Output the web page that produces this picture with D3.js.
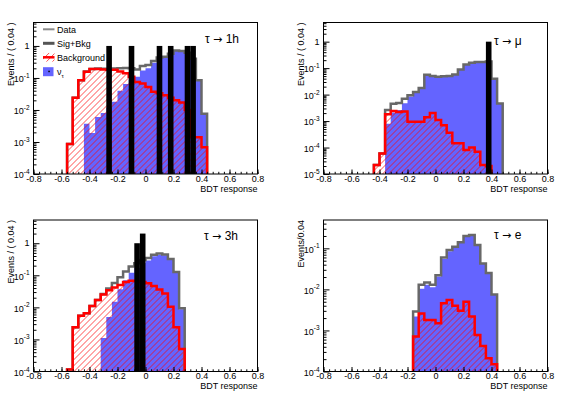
<!DOCTYPE html>
<html>
<head>
<meta charset="utf-8">
<script src="https://cdn.jsdelivr.net/npm/d3@7"></script>
<style>
body { margin: 0; background: #fff; }
svg { display: block; }
text { font-family: "Liberation Sans", Arial, sans-serif; }
</style>
</head>
<body>
<div id="chart"></div>
<script>
/*
Four BDT response plots (tau -> 1h, mu, 3h, e), log y scale.
Each histogram is stored as the low edge of its first bin and the bin contents.
*/
var binWidth = 0.04;

// tau -> 1h
var bkg1hStart = -0.56;
var bkg1h = [8.7e-4, 0.024, 0.085, 0.155, 0.19, 0.19, 0.185, 0.18, 0.18, 0.16, 0.14, 0.11,
	0.075, 0.067, 0.052, 0.037, 0.033, 0.029, 0.024, 0.02, 0.017, 0.01, 1.4e-3, 1.4e-3, 6.8e-4];
var sig1hStart = -0.44;
var sig1h = [3.7e-3, 1.9e-3, 6e-3, 8e-3, 0.012, 0.018, 0.04, 0.065, 0.09, 0.11, 0.17, 0.2,
	0.3, 0.4, 0.43, 0.55, 0.7, 0.68, 0.6, 0.4, 0.083, 7e-3];
var data1hBins = [-0.28, -0.12, 0.08, 0.16, 0.28, 0.32];
var data1hCounts = [1, 1, 1, 1, 1, 1];

// tau -> mu
var bkgMuStart = -0.44;
var bkgMu = [2.2e-5, 6e-5, 1.8e-3, 2.4e-3, 2.2e-3, 2.3e-3, 9.5e-4, 9.5e-4, 9.5e-4, 1.4e-3, 2.0e-3,
	1.1e-3, 7e-4, 3.6e-4, 1.45e-4, 1.45e-4, 8e-5, 1e-4, 7e-5, 2.2e-5, 2e-5];
var sigMuStart = -0.36;
var sigMu = [8e-4, 2.1e-3, 2.6e-3, 4.7e-3, 8.4e-3, 0.0116, 0.017, 0.055, 0.048, 0.046, 0.049,
	0.05, 0.057, 0.089, 0.138, 0.16, 0.17, 0.17, 0.18, 0.04, 4.6e-3];
var dataMuBins = [0.36];
var dataMuCounts = [1];

// tau -> 3h
var bkg3hStart = -0.56;
var bkg3h = [1.15e-4, 2.4e-3, 5.5e-3, 6.5e-3, 0.011, 0.017, 0.025, 0.034, 0.042, 0.05, 0.062,
	0.067, 0.066, 0.062, 0.056, 0.046, 0.036, 0.027, 0.0105, 2.4e-3, 5e-4];
var sig3hStart = -0.32;
var sig3h = [1.1e-3, 5e-3, 0.015, 0.037, 0.07, 0.12, 0.17, 0.24, 0.29, 0.39, 0.44, 0.42,
	0.31, 0.125, 8.8e-3];
var data3hBins = [-0.08, -0.04];
var data3hCounts = [1, 2];

// tau -> e
var bkgEStart = -0.16;
var bkgE = [7.1e-4, 2.6e-3, 1.8e-3, 1.8e-3, 1.5e-3, 4.6e-3, 5.5e-3, 4e-3, 3e-3, 5e-3, 2.2e-3,
	7.8e-4, 4.2e-4, 2.1e-4, 1.5e-4];
var sigEStart = -0.16;
var sigE = [2.2e-3, 0.0103, 0.013, 0.0112, 0.0205, 0.055, 0.085, 0.106, 0.137, 0.195, 0.208,
	0.119, 0.0426, 0.0248, 7.35e-3];
var dataEBins = [];
var dataECounts = [];

// axis labels
var xTicks = [-0.8, -0.6, -0.4, -0.2, 0, 0.2, 0.4, 0.6, 0.8];
var xTickLabels = ["-0.8", "-0.6", "-0.4", "-0.2", "0", "0.2", "0.4", "0.6", "0.8"];
var xTitle = "BDT response";

var pads = [
	{col: 0, row: 0, yMin: 1e-4, yMax: 5.4, yTitle: "Events / ( 0.04 )", label: "1h", lx: 205, ly: 42.5,
		bkgStart: bkg1hStart, bkg: bkg1h, sigStart: sig1hStart, sig: sig1h, dataBins: data1hBins, dataCounts: data1hCounts},
	{col: 1, row: 0, yMin: 1e-5, yMax: 5.3, yTitle: "Events / ( 0.04 )", label: "\u03bc", lx: 204, ly: 44.5,
		bkgStart: bkgMuStart, bkg: bkgMu, sigStart: sigMuStart, sig: sigMu, dataBins: dataMuBins, dataCounts: dataMuCounts},
	{col: 0, row: 1, yMin: 1e-4, yMax: 5.3, yTitle: "Events / ( 0.04 )", label: "3h", lx: 204, ly: 42,
		bkgStart: bkg3hStart, bkg: bkg3h, sigStart: sig3hStart, sig: sig3h, dataBins: data3hBins, dataCounts: data3hCounts},
	{col: 1, row: 1, yMin: 1e-4, yMax: 0.49, yTitle: "Events/0.04", label: "e", lx: 204, ly: 41.5,
		bkgStart: bkgEStart, bkg: bkgE, sigStart: sigEStart, sig: sigE, dataBins: dataEBins, dataCounts: dataECounts}
];

var padX = [0, 290];
var padY = [0, 197.5];
var frame = {left: 33.5, right: 257.5, top: 22.5, bottom: 174};

var blue = "#6464ff";
var red = "#ff0000";
var gray = "#686868";
var hatchStep = 6;

var svg = d3.select("#chart").append("svg")
	.attr("width", 581)
	.attr("height", 395);

var defs = svg.append("defs");

//step outline of a histogram, down to the bottom of the frame at both ends
function stepLine(x, y, start, vals) {
	var bottom = y.range()[0];
	var pts = [[x(start), bottom]];
	vals.forEach(function(v, k) {
		pts.push([x(start + k * binWidth), y(v)]);
		pts.push([x(start + (k + 1) * binWidth), y(v)]);
	});
	pts.push([x(start + vals.length * binWidth), bottom]);
	return d3.line()(pts);
}

//sig + bkg summed bin by bin
function sumHist(aStart, a, bStart, b) {
	var ia = Math.round((aStart + 0.8) / binWidth);
	var ib = Math.round((bStart + 0.8) / binWidth);
	var lo = Math.min(ia, ib);
	var hi = Math.max(ia + a.length, ib + b.length);
	var vals = d3.range(lo, hi).map(function(k) {
		return (a[k - ia] || 0) + (b[k - ib] || 0);
	});
	return {start: -0.8 + lo * binWidth, vals: vals};
}

/*
Red "/" hatching, lines drawn one by one (clipped by the caller).
absOffset = page x - page y of the group origin; the lines are shifted so they
run between pixel centres and come out light, the same in every pad.
*/
function hatchLines(parent, x0, y0, x1, y1, absOffset) {
	var h = y1 - y0;
	var base = x0 - h - y1 + absOffset;
	var shift = 0.5 - (((base % 1) + 1) % 1);
	var starts = d3.range(x0 - h - hatchStep, x1 + hatchStep, hatchStep);
	parent.selectAll("line.hatch")
		.data(starts)
		.enter()
		.append("line")
		.attr("class", "hatch")
		.attr("x1", function(d) { return d + shift; })
		.attr("y1", y1)
		.attr("x2", function(d) { return d + shift + h; })
		.attr("y2", y0)
		.attr("stroke", red)
		.attr("stroke-width", 0.7);
}

function drawPad(p, i) {
	var ox = padX[p.col], oy = padY[p.row];
	var g = svg.append("g")
		.attr("transform", "translate(" + ox + "," + oy + ")");

	var x = d3.scaleLinear().domain([-0.8, 0.8]).range([frame.left, frame.right]);
	var y = d3.scaleLog().domain([p.yMin, p.yMax]).range([frame.bottom, frame.top]).clamp(true);

	defs.append("clipPath").attr("id", "clip" + i)
		.append("rect")
		.attr("x", frame.left).attr("y", frame.top)
		.attr("width", frame.right - frame.left)
		.attr("height", frame.bottom - frame.top);

	var bkgArea = stepLine(x, y, p.bkgStart, p.bkg) + "Z";
	defs.append("clipPath").attr("id", "bkgclip" + i)
		.append("path")
		.attr("d", bkgArea);

	var plot = g.append("g").attr("clip-path", "url(#clip" + i + ")");

	//signal, filled blue
	plot.append("path")
		.attr("d", stepLine(x, y, p.sigStart, p.sig) + "Z")
		.attr("fill", blue);

	//background hatch
	var hatchG = plot.append("g").attr("clip-path", "url(#bkgclip" + i + ")");
	hatchLines(hatchG, frame.left, frame.top, frame.right, frame.bottom, ox - oy);

	//sig+bkg line
	var tot = sumHist(p.sigStart, p.sig, p.bkgStart, p.bkg);
	plot.append("path")
		.attr("d", stepLine(x, y, tot.start, tot.vals))
		.attr("fill", "none")
		.attr("stroke", gray)
		.attr("stroke-width", 2.5);

	//background line
	plot.append("path")
		.attr("d", stepLine(x, y, p.bkgStart, p.bkg))
		.attr("fill", "none")
		.attr("stroke", red)
		.attr("stroke-width", 2.5);

	//data
	plot.selectAll("rect.data")
		.data(p.dataBins)
		.enter()
		.append("rect")
		.attr("class", "data")
		.attr("x", function(d) { return x(d); })
		.attr("width", function(d) { return x(d + binWidth) - x(d); })
		.attr("y", function(d, k) { return y(p.dataCounts[k]); })
		.attr("height", function(d, k) { return frame.bottom - y(p.dataCounts[k]); })
		.attr("fill", "#000");

	//frame
	g.append("rect")
		.attr("x", frame.left).attr("y", frame.top)
		.attr("width", frame.right - frame.left)
		.attr("height", frame.bottom - frame.top)
		.attr("fill", "none")
		.attr("stroke", "#000")
		.attr("stroke-width", 1);

	//x axis: minor every bin, major every 0.2
	var xMinor = d3.range(0, 41).map(function(k) { return -0.8 + k * binWidth; });
	var xMinorAxis = g.append("g")
		.attr("transform", "translate(0," + frame.bottom + ")")
		.call(d3.axisBottom(x).tickValues(xMinor).tickSize(-2.2).tickFormat(""));
	xMinorAxis.select(".domain").remove();

	var xAxis = g.append("g")
		.attr("transform", "translate(0," + frame.bottom + ")")
		.call(d3.axisBottom(x).tickValues(xTicks).tickSize(-4.5).tickPadding(0)
			.tickFormat(function(d, k) { return xTickLabels[k]; }));
	xAxis.select(".domain").remove();
	xAxis.selectAll("text")
		.attr("y", 7.6)
		.attr("dy", 0)
		.attr("font-size", 9)
		.attr("font-family", "Liberation Sans, Arial, sans-serif");

	g.append("text")
		.attr("x", frame.right)
		.attr("y", frame.bottom + 17.8)
		.attr("text-anchor", "end")
		.attr("font-size", 9)
		.text(xTitle);

	//y axis, log: decades + minor ticks at 2..9
	var lo = Math.round(Math.log10(p.yMin));
	var hi = Math.floor(Math.log10(p.yMax));
	var decades = d3.range(lo, hi + 1);
	var minors = [];
	decades.forEach(function(e) {
		d3.range(2, 10).forEach(function(m) {
			var v = m * Math.pow(10, e);
			if (v <= p.yMax) minors.push(v);
		});
	});

	var yMinorAxis = g.append("g")
		.attr("transform", "translate(" + frame.left + ",0)")
		.call(d3.axisLeft(y).tickValues(minors).tickSize(-3).tickFormat(""));
	yMinorAxis.select(".domain").remove();

	var yMajorAxis = g.append("g")
		.attr("transform", "translate(" + frame.left + ",0)")
		.call(d3.axisLeft(y).tickValues(decades.map(function(e) { return Math.pow(10, e); }))
			.tickSize(-6).tickFormat(""));
	yMajorAxis.select(".domain").remove();

	//labels "1" or "10^e"
	decades.forEach(function(e) {
		var ty = y(Math.pow(10, e));
		var t = g.append("text")
			.attr("x", frame.left - 4)
			.attr("text-anchor", "end")
			.attr("font-size", 9);
		if (e === 0) {
			t.attr("y", ty + 3.2).text("1");
		} else {
			t.attr("y", ty + 4.3);
			t.append("tspan").text("10");
			t.append("tspan").attr("dy", -4.3).attr("font-size", 6.5).text(String(e));
		}
	});

	g.append("text")
		.attr("transform", "translate(14," + frame.top + ") rotate(-90)")
		.attr("text-anchor", "end")
		.attr("font-size", 9)
		.text(p.yTitle);

	//channel label: tau -> X, arrow from DejaVu for its width
	var lab = g.append("text")
		.attr("x", p.lx)
		.attr("y", p.ly)
		.attr("font-size", 12);
	lab.append("tspan").text("\u03c4 ");
	lab.append("tspan").attr("font-family", "DejaVu Sans").attr("font-size", 11).text("\u2192");
	lab.append("tspan").text(" " + p.label);
}

pads.forEach(drawPad);

//legend, top left pad only
var leg = svg.append("g");
var legX0 = 43, legX1 = 54.5, legText = 57;
var legRows = [29.3, 43.3, 57.3, 71.7];

leg.append("line")
	.attr("x1", legX0).attr("x2", legX1)
	.attr("y1", legRows[0]).attr("y2", legRows[0])
	.attr("stroke", "#8a8a8a").attr("stroke-width", 2);

leg.append("line")
	.attr("x1", legX0).attr("x2", legX1)
	.attr("y1", legRows[1]).attr("y2", legRows[1])
	.attr("stroke", "#555").attr("stroke-width", 3);

defs.append("clipPath").attr("id", "legclip")
	.append("rect")
	.attr("x", legX0).attr("y", legRows[2] - 4.5)
	.attr("width", legX1 - legX0).attr("height", 9);
var legHatch = leg.append("g").attr("clip-path", "url(#legclip)");
hatchLines(legHatch, legX0, legRows[2] - 4.5, legX1, legRows[2] + 4.5, 0);
leg.append("line")
	.attr("x1", legX0).attr("x2", legX1)
	.attr("y1", legRows[2]).attr("y2", legRows[2])
	.attr("stroke", red).attr("stroke-width", 2.5);

leg.append("rect")
	.attr("x", legX0).attr("y", legRows[3] - 4.5)
	.attr("width", legX1 - legX0 - 1).attr("height", 9)
	.attr("fill", blue);
leg.append("rect")
	.attr("x", 48.3).attr("y", legRows[3] - 1)
	.attr("width", 1.5).attr("height", 1.5)
	.attr("fill", "#000");

var legLabels = ["Data", "Sig+Bkg", "Background"];
legLabels.forEach(function(s, k) {
	leg.append("text")
		.attr("x", legText)
		.attr("y", legRows[k] + 3.3)
		.attr("font-size", 9)
		.text(s);
});
var nu = leg.append("text")
	.attr("x", legText)
	.attr("y", legRows[3] + 3.3)
	.attr("font-size", 9);
nu.append("tspan").text("\u03bd");
nu.append("tspan").attr("dy", 2.5).attr("font-size", 6).text("\u03c4");
</script>
</body>
</html>
